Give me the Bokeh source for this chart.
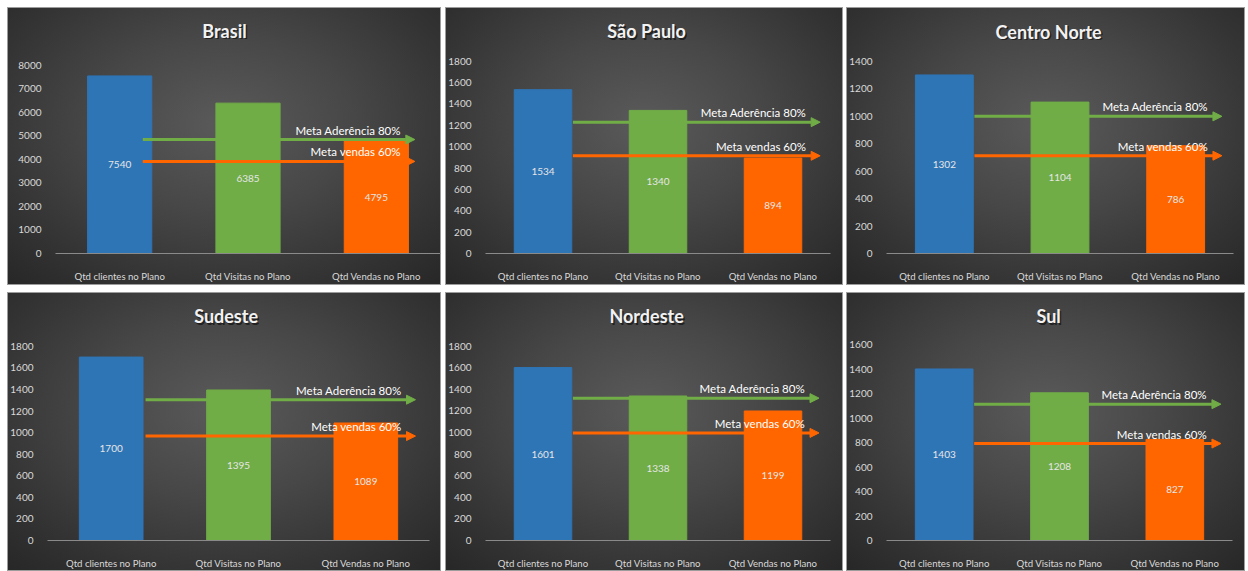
from bokeh.plotting import figure
from bokeh.layouts import row, column
from bokeh.models import (ColumnDataSource, Arrow, NormalHead,
                          FixedTicker, Range1d)
from bokeh.core.properties import value
from bokeh.embed import file_html
from bokeh.resources import INLINE

# ---------------- data ----------------
categories = ["Qtd clientes no Plano", "Qtd Visitas no Plano", "Qtd Vendas no Plano"]
regions = ["Brasil", "São Paulo", "Centro Norte", "Sudeste", "Nordeste", "Sul"]
brasil = [7540, 6385, 4795]
sao_paulo = [1534, 1340, 894]
centro_norte = [1302, 1104, 786]
sudeste = [1700, 1395, 1089]
nordeste = [1601, 1338, 1199]
sul = [1403, 1208, 827]
series = [brasil, sao_paulo, centro_norte, sudeste, nordeste, sul]
meta_aderencia = [4840, 1230, 1000, 1305, 1318, 1115]
meta_vendas = [3910, 915, 713, 968, 996, 793]
axis_max = [8000, 1800, 1400, 1800, 1800, 1600]
axis_step = [1000, 200, 200, 200, 200, 200]
label_aderencia = "Meta Aderência 80%"
label_vendas = "Meta vendas 60%"

# ---------------- styling / layout ----------------
bar_colors = ["#2e75b6", "#70ad47", "#ff6600"]
green = "#70ad47"
orange = "#ff6600"
FONT = "Lato"
# width, height, borders (left, right, top of value area, bottom), arrow start/end
panel_layout = [
    dict(w=434, h=278, l=48, r=1, t=59, b=26, a0=0.68, a1=2.80),
    dict(w=398, h=278, l=36, r=13, t=54, b=31, a0=0.76, a1=2.91),
    dict(w=399, h=278, l=35, r=12, t=54, b=32, a0=0.76, a1=2.90),
    dict(w=434, h=279, l=37, r=12, t=54, b=30, a0=0.77, a1=2.89),
    dict(w=398, h=279, l=36, r=13, t=54, b=29, a0=0.76, a1=2.90),
    dict(w=399, h=279, l=35, r=13, t=53, b=28, a0=0.76, a1=2.90),
]
TITLE_Y = 24  # px from panel top
bg = ("radial-gradient(ellipse 75% 80% at 50% 42%, #5a5a5a 0%, #474747 40%, "
      "#333333 75%, #262626 100%)")


def make_panel(i):
    L = panel_layout[i]
    vals = series[i]
    ymax = axis_max[i]
    fh = L["h"] - L["t"] - L["b"]          # height of the value area
    fw = L["w"] - L["l"] - L["r"]
    ytop = ymax * (1 + L["t"] / fh)        # frame extends to panel top
    p = figure(x_range=categories, y_range=Range1d(0, ytop),
               width=L["w"], height=L["h"], output_backend="svg",
               toolbar_location=None, tools="",
               min_border_left=L["l"], min_border_right=L["r"],
               min_border_top=0, min_border_bottom=L["b"])
    p.background_fill_alpha = 0
    p.border_fill_alpha = 0
    p.outline_line_color = None
    p.xgrid.grid_line_color = None
    p.ygrid.grid_line_color = None
    p.styles = {"background": bg, "box-shadow": "inset 0 0 0 1px #9c9c9c"}

    src = ColumnDataSource(dict(cat=categories, val=vals, color=bar_colors,
                                mid=[v / 2 for v in vals],
                                txt=[str(v) for v in vals]))
    p.vbar(x="cat", top="val", width=0.5, color="color", source=src)
    p.text(x="cat", y="mid", text="txt", source=src, text_align="center",
           text_baseline="middle", text_color="#e6e6e6",
           text_font=value(FONT), text_font_size="10px")

    for v, c in ((meta_aderencia[i], green), (meta_vendas[i], orange)):
        p.add_layout(Arrow(x_start=L["a0"], y_start=v, x_end=L["a1"], y_end=v,
                           line_color=c, line_width=3,
                           end=NormalHead(size=9, fill_color=c, line_color=c)))
    msrc = ColumnDataSource(dict(x=[L["a1"], L["a1"]],
                                 y=[meta_aderencia[i], meta_vendas[i]],
                                 t=[label_aderencia, label_vendas]))
    p.text(x="x", y="y", text="t", source=msrc, x_offset=-14, y_offset=-3,
           text_align="right", text_baseline="bottom", text_color="#ffffff",
           text_font=value(FONT), text_font_size="11.5px")

    # title centred over the whole panel
    tx = (L["w"] / 2 - L["l"]) / fw * 3
    ty = ytop - TITLE_Y / fh * ymax
    tsrc = ColumnDataSource(dict(x=[tx], y=[ty], t=[regions[i]]))
    p.text(x="x", y="y", text="t", source=tsrc, x_offset=1.5, y_offset=1.5,
           text_align="center", text_baseline="middle", text_color="#000000",
           text_alpha=0.55, text_font=value(FONT), text_font_style="bold",
           text_font_size="18px")
    p.text(x="x", y="y", text="t", source=tsrc,
           text_align="center", text_baseline="middle", text_color="#f2f2f2",
           text_font=value(FONT), text_font_style="bold",
           text_font_size="18px")

    # axes
    p.yaxis.ticker = FixedTicker(ticks=list(range(0, ymax + 1, axis_step[i])))
    p.yaxis.axis_line_color = None
    p.yaxis.major_tick_line_color = None
    p.yaxis.minor_tick_line_color = None
    p.yaxis.major_label_text_color = "#d9d9d9"
    p.yaxis.major_label_text_font = FONT
    p.yaxis.major_label_text_font_size = "10px"
    p.yaxis.major_label_standoff = 8
    p.xaxis.axis_line_color = "#8a8a8a"
    p.xaxis.axis_line_width = 1
    p.xaxis.major_tick_line_color = None
    p.xaxis.minor_tick_line_color = None
    p.xaxis.major_label_text_color = "#d9d9d9"
    p.xaxis.major_label_text_font = FONT
    p.xaxis.major_label_text_font_size = "9.6px"
    p.xaxis.major_label_standoff = 11
    return p


panels = [make_panel(i) for i in range(6)]
for k in (1, 4):
    panels[k].margin = (0, 0, 0, 4)
for k in (2, 5):
    panels[k].margin = (0, 0, 0, 3)

top = row(panels[0], panels[1], panels[2])
bottom = row(panels[3], panels[4], panels[5])
bottom.margin = (7, 0, 0, 0)
layout = column(top, bottom)
layout.margin = (7, 0, 0, 7)

open("out.html", "w").write(file_html(layout, INLINE))
